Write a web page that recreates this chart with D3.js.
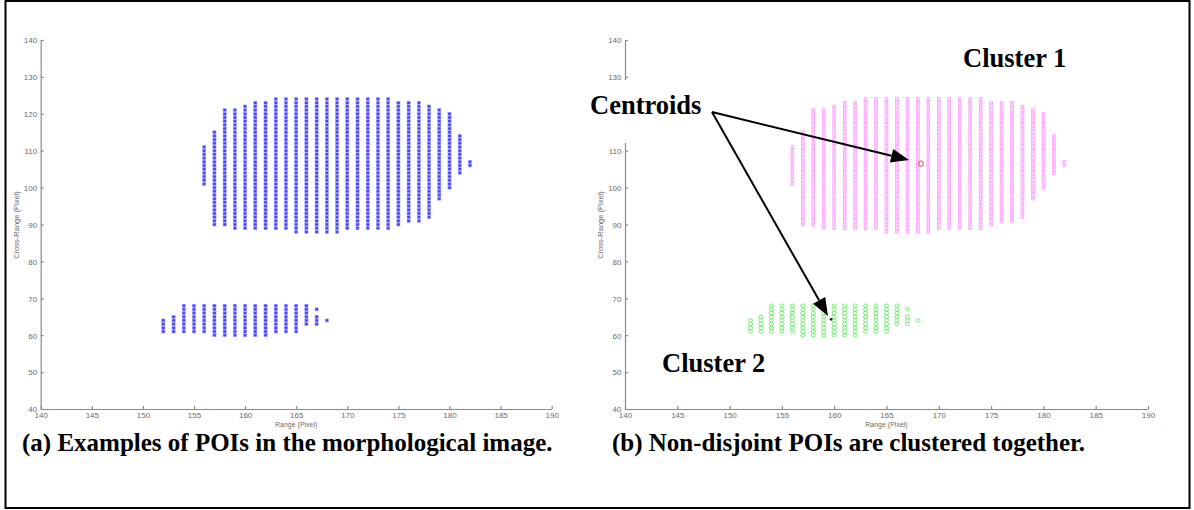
<!DOCTYPE html>
<html>
<head>
<meta charset="utf-8">
<script src="https://cdn.jsdelivr.net/npm/d3@7"></script>
<style>
  html, body { margin: 0; padding: 0; background: #fff; }
  svg { display: block; }
  .axis path, .axis line { stroke: #8a8a8a; stroke-width: 1.2; }
  .axis text { fill: #6a6a6a; font-family: Arial, "Liberation Sans", sans-serif; font-size: 8px; }
</style>
</head>
<body>
<svg id="chart" width="1194" height="510"></svg>
<script>
// ---------- data ----------
const xTicks = [140, 145, 150, 155, 160, 165, 170, 175, 180, 185, 190];
const yTicks = [40, 50, 60, 70, 80, 90, 100, 110, 120, 130, 140];

// upper group of points: one column per range value, rows from low to high (integer pixels)
const upperCols = [156,157,158,159,160,161,162,163,164,165,166,167,168,169,170,171,172,173,174,175,176,177,178,179,180,181,182];
const upperLow  = [101, 90, 90, 89, 89, 89, 89, 89, 89, 88, 88, 88, 88, 88, 89, 89, 89, 89, 89, 90, 91, 91, 92, 97,100,104,106];
const upperHigh = [111,115,121,121,122,123,123,124,124,124,124,124,124,124,124,124,124,124,124,123,123,123,122,121,120,114,107];

// lower group of points
const lowerCols = [152,153,154,155,156,157,158,159,160,161,162,163,164,165,166,167,168];
const lowerLow  = [ 61, 61, 61, 61, 61, 60, 60, 60, 60, 60, 60, 61, 61, 61, 63, 63, 64];
const lowerHigh = [ 64, 65, 68, 68, 68, 68, 68, 68, 68, 68, 68, 68, 68, 68, 68, 67, 64];
const lowerGaps = [[167, 66]];

// centroids
const centroid1 = [168.3, 106.5];
const centroid2 = [159.7, 64.3];

// y tick hidden under the "Centroids" box in panel (b)
const hiddenTicksB = [120];

const xLabel = "Range (Pixel)";
const yLabel = "Cross-Range (Pixel)";
const captionA = "(a) Examples of POIs in the morphological image.";
const captionB = "(b) Non-disjoint POIs are clustered together.";
const labelCentroids = "Centroids";
const labelCluster1 = "Cluster 1";
const labelCluster2 = "Cluster 2";

// ---------- build point lists ----------
function expand(cols, lo, hi, gaps) {
  const pts = [];
  cols.forEach((c, i) => {
    for (let y = lo[i]; y <= hi[i]; y++) {
      if (gaps && gaps.some(g => g[0] === c && g[1] === y)) continue;
      pts.push([c, y]);
    }
  });
  return pts;
}
const upperPts = expand(upperCols, upperLow, upperHigh);
const lowerPts = expand(lowerCols, lowerLow, lowerHigh, lowerGaps);

const svg = d3.select("#chart");

// outer frame
svg.append("rect").attr("x", 5.5).attr("y", 1).attr("width", 1184).attr("height", 507)
  .attr("fill", "none").attr("stroke", "#000").attr("stroke-width", 2);

function panel(x0, x1, ylabX, hidden) {
  const x = d3.scaleLinear().domain([140, 190]).range([x0, x1]);
  const y = d3.scaleLinear().domain([40, 140]).range([409, 40]);
  const g = svg.append("g");
  const ax = g.append("g").attr("class", "axis").attr("transform", `translate(0,${y(40)})`)
    .call(d3.axisBottom(x).tickValues(xTicks).tickSize(-3).tickPadding(3).tickSizeOuter(0).tickFormat(d3.format("d")));
  ax.selectAll("text").attr("dy", "0.8em");
  const ay = g.append("g").attr("class", "axis").attr("transform", `translate(${x(140)},0)`)
    .call(d3.axisLeft(y).tickValues(yTicks).tickSize(-3).tickPadding(3.5).tickSizeOuter(0).tickFormat(d3.format("d")));
  ay.selectAll("text").attr("dy", "0.35em");
  ay.selectAll(".tick").filter(d => hidden.includes(d)).select("text").remove();
  g.append("text").attr("x", (x0 + x1) / 2).attr("y", 427).attr("text-anchor", "middle")
    .attr("fill", "#6a6a6a").attr("font-family", "Arial, sans-serif").attr("font-size", 7).text(xLabel);
  g.append("text").attr("transform", `translate(${ylabX},225) rotate(-90)`).attr("text-anchor", "middle")
    .attr("fill", "#6a6a6a").attr("font-family", "Arial, sans-serif").attr("font-size", 7.5).text(yLabel);
  return { x, y, g };
}

// ---------- panel (a) ----------
const A = panel(40.7, 551.7, 19, []);
A.g.append("g").selectAll("rect").data(upperPts.concat(lowerPts)).join("rect")
  .attr("x", d => A.x(d[0]) - 1.6).attr("y", d => A.y(d[1]) - 1.5)
  .attr("width", 3.2).attr("height", 3)
  .attr("fill", "#4444ff").attr("stroke", "#a0a0ff").attr("stroke-width", 0.5);

// ---------- panel (b) ----------
const B = panel(625, 1148, 603, hiddenTicksB);
B.g.append("g").selectAll("rect").data(upperPts).join("rect")
  .attr("x", d => B.x(d[0]) - 1.4).attr("y", d => B.y(d[1]) - 1.3)
  .attr("width", 2.8).attr("height", 2.6)
  .attr("fill", "#ffdcff").attr("stroke", "#ff9cff").attr("stroke-width", 0.8);
B.g.append("g").selectAll("ellipse").data(lowerPts).join("ellipse")
  .attr("cx", d => B.x(d[0])).attr("cy", d => B.y(d[1]))
  .attr("rx", 2.1).attr("ry", 1.7)
  .attr("fill", "none").attr("stroke", "#5ae65a").attr("stroke-width", 0.8);
B.g.append("ellipse").attr("cx", B.x(centroid1[0])).attr("cy", B.y(centroid1[1]))
  .attr("rx", 2.3).attr("ry", 2.6).attr("fill", "none").attr("stroke", "#ff5a5a").attr("stroke-width", 1.1);
B.g.append("circle").attr("cx", B.x(centroid2[0])).attr("cy", B.y(centroid2[1]))
  .attr("r", 1.4).attr("fill", "#222");

// annotations (text boxes with white background, as in the reference)
const serif = "'Liberation Serif', 'Times New Roman', serif";
svg.append("rect").attr("x", 584).attr("y", 80).attr("width", 124).attr("height", 63).attr("fill", "#fff");
svg.append("text").attr("x", 590).attr("y", 114).attr("font-family", serif).attr("font-weight", "bold")
  .attr("font-size", 26.5).attr("fill", "#000").text(labelCentroids);
svg.append("text").attr("x", 963).attr("y", 67).attr("font-family", serif).attr("font-weight", "bold")
  .attr("font-size", 26.5).attr("fill", "#000").text(labelCluster1);
svg.append("text").attr("x", 662).attr("y", 372).attr("font-family", serif).attr("font-weight", "bold")
  .attr("font-size", 26.5).attr("fill", "#000").text(labelCluster2);

svg.append("text").attr("x", 22).attr("y", 451).attr("font-family", serif).attr("font-weight", "bold")
  .attr("font-size", 25).attr("fill", "#000").text(captionA);
svg.append("text").attr("x", 612).attr("y", 451).attr("font-family", serif).attr("font-weight", "bold")
  .attr("font-size", 25).attr("fill", "#000").text(captionB);

// arrows
const start = [712, 112];
function arrow(end) {
  const dx = end[0] - start[0], dy = end[1] - start[1];
  const len = Math.hypot(dx, dy), ux = dx / len, uy = dy / len;
  const hl = 18, hw = 7;
  const bx = end[0] - ux * hl, by = end[1] - uy * hl;
  svg.append("line").attr("x1", start[0]).attr("y1", start[1]).attr("x2", bx).attr("y2", by)
    .attr("stroke", "#000").attr("stroke-width", 2);
  svg.append("path").attr("d",
    `M${end[0]},${end[1]} L${bx - uy * hw},${by + ux * hw} L${bx + uy * hw},${by - ux * hw} Z`)
    .attr("fill", "#000");
}
arrow([909, 160]);
arrow([828, 316]);
</script>
</body>
</html>
